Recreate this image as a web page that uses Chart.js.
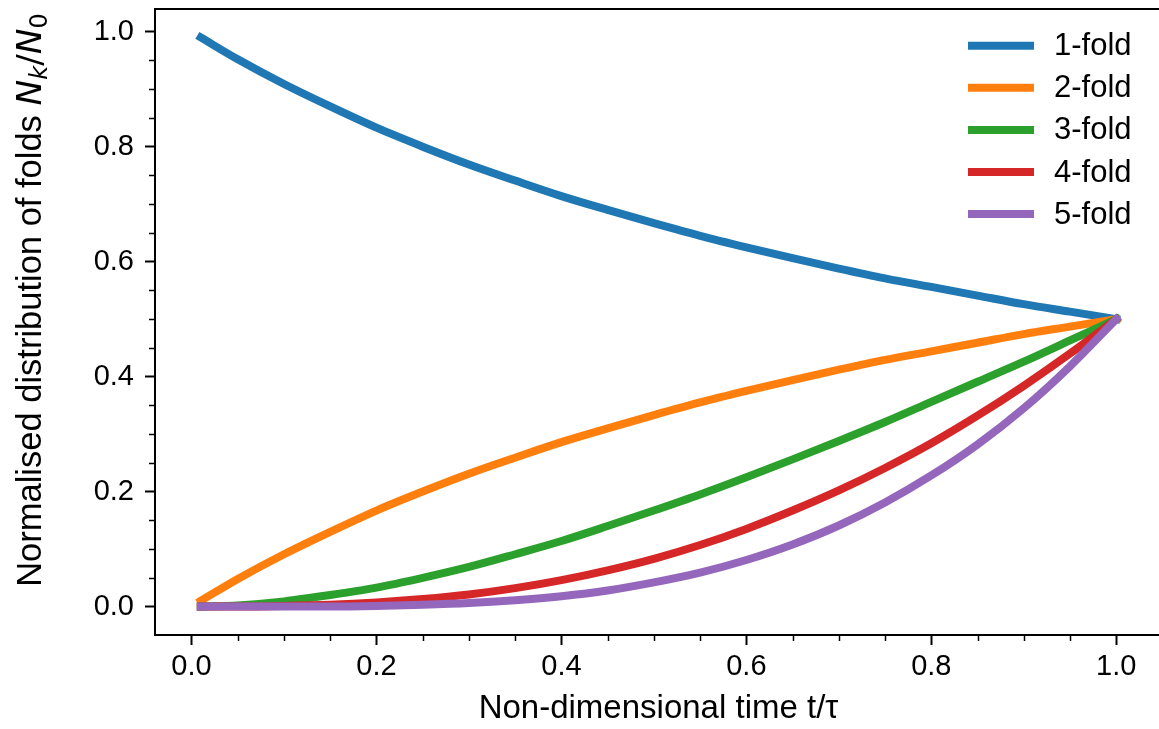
<!DOCTYPE html>
<html>
<head>
<meta charset="utf-8">
<script src="https://cdn.jsdelivr.net/npm/chart.js@4.4.0/dist/chart.umd.min.js"></script>
<style>
  html, body { margin: 0; padding: 0; background: #fff; overflow: hidden; }
  #wrap { width: 1170px; height: 729px; }
</style>
</head>
<body>
<div id="wrap"><canvas id="chart" width="1170" height="729"></canvas></div>
<script>
// values (t/tau on x)
const tValues = [0.01, 0.05, 0.10, 0.15, 0.20, 0.25, 0.30, 0.35, 0.40, 0.45, 0.50,
                 0.55, 0.60, 0.65, 0.70, 0.75, 0.80, 0.85, 0.90, 0.95, 1.00];
const fold1 = [0.990, 0.952, 0.909, 0.870, 0.833, 0.800, 0.769, 0.741, 0.714, 0.690, 0.667,
               0.645, 0.625, 0.606, 0.588, 0.571, 0.556, 0.541, 0.526, 0.513, 0.500];
const fold2 = [0.010, 0.048, 0.091, 0.130, 0.167, 0.200, 0.231, 0.259, 0.286, 0.310, 0.333,
               0.355, 0.375, 0.394, 0.412, 0.429, 0.444, 0.459, 0.474, 0.487, 0.500];
const fold3 = [0.000, 0.002, 0.009, 0.020, 0.033, 0.050, 0.069, 0.091, 0.114, 0.140, 0.167,
               0.195, 0.225, 0.256, 0.288, 0.321, 0.356, 0.391, 0.426, 0.463, 0.500];
const fold4 = [0.000, 0.000, 0.001, 0.003, 0.007, 0.013, 0.021, 0.032, 0.046, 0.063, 0.083,
               0.107, 0.135, 0.167, 0.202, 0.241, 0.284, 0.332, 0.384, 0.440, 0.500];
const fold5 = [0.000, 0.000, 0.000, 0.000, 0.001, 0.003, 0.006, 0.011, 0.018, 0.028, 0.042,
               0.059, 0.081, 0.108, 0.141, 0.181, 0.228, 0.282, 0.345, 0.418, 0.500];

const seriesLabels = ['1-fold', '2-fold', '3-fold', '4-fold', '5-fold'];
const seriesColors = ['#1f77b4', '#ff7f0e', '#2ca02c', '#d62728', '#9467bd'];
const xTicks = [0.0, 0.2, 0.4, 0.6, 0.8, 1.0];
const yTicks = [0.0, 0.2, 0.4, 0.6, 0.8, 1.0];

const LINE_W = 8;
const TICK_FONT = { family: '"Liberation Sans"', size: 29 };

const allSeries = [fold1, fold2, fold3, fold4, fold5];
const datasets = allSeries.map((vals, i) => ({
  label: seriesLabels[i],
  data: tValues.map((t, j) => ({ x: t, y: vals[j] })),
  borderColor: seriesColors[i],
  borderWidth: LINE_W,
  borderCapStyle: 'square',
  pointRadius: 0,
  cubicInterpolationMode: 'monotone',
  order: allSeries.length - i   // later series drawn on top, like matplotlib
}));

// minor ticks every 0.05 + the box around the axes (right side falls off the picture)
const frameAndMinor = {
  id: 'frameAndMinor',
  afterDatasetsDraw(chart) {
    const ctx = chart.ctx, a = chart.chartArea;
    const xs = chart.scales.x, ys = chart.scales.y;
    ctx.save();
    ctx.strokeStyle = '#000';
    ctx.lineWidth = 1.5;
    ctx.beginPath();
    for (let k = 1; k * 0.05 <= xs.max; k++) {
      if (k % 4 === 0) continue;
      const px = Math.round(xs.getPixelForValue(k * 0.05)) + 0.5;
      ctx.moveTo(px, a.bottom); ctx.lineTo(px, a.bottom + 6);
    }
    for (let k = 1; k * 0.05 <= ys.max; k++) {
      if (k % 4 === 0) continue;
      const py = Math.round(ys.getPixelForValue(k * 0.05)) + 0.5;
      ctx.moveTo(a.left, py); ctx.lineTo(a.left - 6, py);
    }
    ctx.stroke();
    ctx.lineWidth = 2;
    ctx.strokeRect(a.left, a.top, a.right - a.left, a.bottom - a.top);
    ctx.restore();
  }
};

// legend in the top right corner of the axes
const cornerLegend = {
  id: 'cornerLegend',
  afterDraw(chart) {
    const ctx = chart.ctx, a = chart.chartArea;
    ctx.save();
    ctx.font = '31px "Liberation Sans"';
    ctx.textBaseline = 'middle';
    ctx.fillStyle = '#000';
    chart.data.datasets.forEach((ds, i) => {
      const y = a.top + 36.7 + i * 42.1;
      ctx.strokeStyle = ds.borderColor;
      ctx.lineWidth = LINE_W;
      ctx.beginPath();
      ctx.moveTo(a.right - 194, y);
      ctx.lineTo(a.right - 128, y);
      ctx.stroke();
      ctx.fillText(ds.label, a.right - 108, y + 1);
    });
    ctx.restore();
  }
};

// y label with the math part N_k / N_0
const yLabel = {
  id: 'yLabel',
  afterDraw(chart) {
    const ctx = chart.ctx, a = chart.chartArea;
    const parts = [
      { text: 'Normalised distribution of folds ', font: '34.5px "Liberation Sans"', dy: 0 },
      { text: 'N', font: 'italic 34.5px "DejaVu Sans"', dy: 0 },
      { text: 'k', font: 'italic 24px "DejaVu Sans"', dy: 6 },
      { text: '/', font: '34.5px "DejaVu Sans"', dy: 0 },
      { text: 'N', font: 'italic 34.5px "DejaVu Sans"', dy: 0 },
      { text: '0', font: '24px "DejaVu Sans"', dy: 6 }
    ];
    ctx.save();
    let total = 0;
    parts.forEach(p => { ctx.font = p.font; p.w = ctx.measureText(p.text).width; total += p.w; });
    ctx.translate(41, (a.top + a.bottom) / 2 - 22);
    ctx.rotate(-Math.PI / 2);
    ctx.fillStyle = '#000';
    ctx.textBaseline = 'alphabetic';
    let x = -total / 2;
    parts.forEach(p => {
      ctx.font = p.font;
      ctx.fillText(p.text, x, p.dy);
      x += p.w;
    });
    ctx.restore();
  }
};

new Chart(document.getElementById('chart'), {
  type: 'line',
  data: { datasets: datasets },
  options: {
    responsive: false,
    animation: false,
    devicePixelRatio: 1,
    // canvas is wider than the window: right edge of the axes (x=1162) is cut off
    layout: { padding: { left: 0, right: 8, top: 9, bottom: 0 } },
    plugins: { legend: { display: false }, tooltip: { enabled: false } },
    scales: {
      x: {
        type: 'linear',
        min: -0.0395,
        max: 1.0495,
        afterBuildTicks: s => { s.ticks = xTicks.map(v => ({ value: v })); },
        afterFit: s => { s.height = 94; s.paddingLeft = 0; s.paddingRight = 0; },
        border: { display: false },
        grid: { drawOnChartArea: false, drawTicks: true, tickLength: 10, tickWidth: 2, tickColor: '#000' },
        ticks: { font: TICK_FONT, color: '#000', padding: 5, maxRotation: 0,
                 callback: v => v.toFixed(1) },
        title: { display: true, text: 'Non-dimensional time t/\u03c4', color: '#000',
                 font: { family: '"Liberation Sans"', size: 33 }, padding: { top: 0, bottom: 0 } }
      },
      y: {
        type: 'linear',
        min: -0.0495,
        max: 1.0395,
        afterBuildTicks: s => { s.ticks = yTicks.map(v => ({ value: v })); },
        afterFit: s => { s.width = 155; s.paddingTop = 0; s.paddingBottom = 0; },
        border: { display: false },
        grid: { drawOnChartArea: false, drawTicks: true, tickLength: 10, tickWidth: 2, tickColor: '#000' },
        ticks: { font: TICK_FONT, color: '#000', padding: 11, callback: v => v.toFixed(1) }
      }
    }
  },
  plugins: [frameAndMinor, cornerLegend, yLabel]
});
</script>
</body>
</html>
